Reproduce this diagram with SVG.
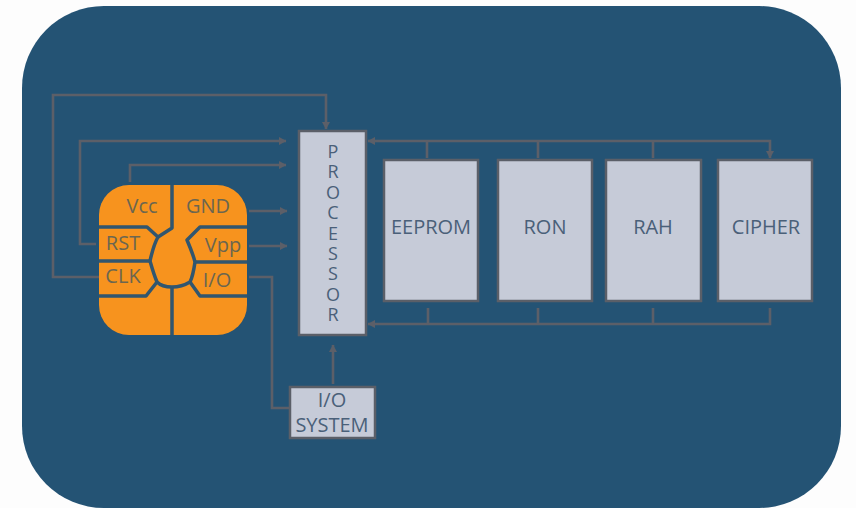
<svg xmlns="http://www.w3.org/2000/svg" width="856" height="508" viewBox="0 0 856 508">
<style>
text{font-family:"Open Sans","Liberation Sans",sans-serif;text-anchor:middle}
.box{fill:#c6cbd8;stroke:#5b5f68;stroke-width:2.5}
.lbl{fill:#4a6079;font-size:20px}
.chip{fill:#6b6650;font-size:20px}
.wire{fill:none;stroke:#5c5f68;stroke-width:2.6}
.cut{fill:none;stroke:#31566f;stroke-width:3.5;stroke-linejoin:round}
.vert{fill:#4a6079;font-size:18px;text-anchor:start;writing-mode:vertical-rl;text-orientation:upright;letter-spacing:-3.6px}
</style>
<defs>
<marker id="a" markerWidth="4" markerHeight="4" refX="2.8" refY="2" orient="auto"><path d="M0 .4L3 2L0 3.6Z" fill="#5c5f68"/></marker>
</defs>
<rect width="856" height="508" fill="#fdfdfd"/>
<rect x="22" y="6" width="819" height="502" rx="82" fill="#245374"/>
<g id="connectors" class="wire">
<path d="M99 277H53V95H326V129" marker-end="url(#a)"/>
<path d="M96 244H80V141H286" marker-end="url(#a)"/>
<path d="M130 182V165H286" marker-end="url(#a)"/>
<path d="M249 211H287" marker-end="url(#a)"/>
<path d="M249 246H287" marker-end="url(#a)"/>
<path d="M249 277H272V408H289"/>
<path d="M333 384V345" marker-end="url(#a)"/>
<path d="M400 141H770V158" marker-end="url(#a)"/>
<path d="M400 141H368" marker-end="url(#a)"/>
<path d="M427 142V158M538 142V158M653 142V158"/>
<path d="M770 308V324H368" marker-end="url(#a)"/>
<path d="M428 308V324M538 308V324M653 308V324"/>
</g>
<g id="chip">
<rect x="99" y="185" width="148" height="150" rx="30" fill="#f7931e"/>
<g class="cut">
<path d="M172 185V228L158 237L147 227H99"/>
<path d="M158 237C154 244 152 252 150 261C152 268 154 275 157 282C161 286 167 287 172 287C179 287 185 285 190 282C193 276 194 269 195 262C193 254 190 247 187 240L200 227H247"/>
<path d="M99 261H150M195 262H247"/>
<path d="M157 282L146 296H99M190 282L200 296H247M172 287V335"/>
</g>
<text class="chip" x="142" y="213">Vcc</text>
<text class="chip" x="208" y="213">GND</text>
<text class="chip" x="123" y="250">RST</text>
<text class="chip" x="223" y="252">Vpp</text>
<text class="chip" x="123" y="283">CLK</text>
<text class="chip" x="217" y="287">I/O</text>
</g>
<g id="processor">
<rect class="box" x="299" y="131" width="67" height="204"/>
<text class="vert" x="333" y="139">PROCESSOR</text>
</g>
<g id="eeprom"><rect class="box" x="384" y="160" width="94" height="141"/><text class="lbl" x="431" y="234">EEPROM</text></g>
<g id="ron"><rect class="box" x="498" y="160" width="94" height="141"/><text class="lbl" x="545" y="234">RON</text></g>
<g id="rah"><rect class="box" x="606" y="160" width="95" height="141"/><text class="lbl" x="653" y="234">RAH</text></g>
<g id="cipher"><rect class="box" x="718" y="160" width="94" height="141"/><text class="lbl" x="766" y="234">CIPHER</text></g>
<g id="io-system"><rect class="box" x="290" y="387" width="85" height="51"/><text class="lbl" x="332" y="407">I/O</text><text class="lbl" x="332" y="432">SYSTEM</text></g>
</svg>
